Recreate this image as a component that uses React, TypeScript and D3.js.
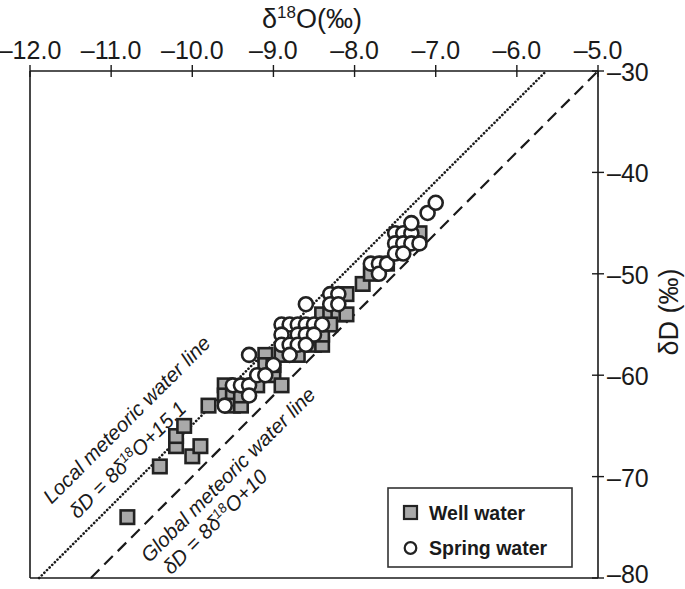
import React from 'react';
import * as d3 from 'd3';

const xTicks = [-12, -11, -10, -9, -8, -7, -6, -5];
const yTicks = [-30, -40, -50, -60, -70, -80];

const wellX = [-10.8, -10.4, -10.2, -10.2, -10.1, -10.0, -9.9, -9.8, -9.6, -9.6, -9.5, -9.5, -9.4, -9.4, -9.2, -9.1, -9.1, -9.0, -9.0, -8.9, -8.9, -8.7, -8.5, -8.4, -8.4, -8.4, -8.3, -8.2, -8.1, -8.1, -8.3, -7.9, -7.8, -7.6, -7.2];
const wellY = [-74, -69, -67, -66, -65, -68, -67, -63, -61, -62, -62, -63, -63, -62, -61, -58, -59, -60, -59, -61, -58, -58, -57, -57, -56, -54, -54, -54, -54, -52, -55, -51, -50, -49, -46];

const springX = [-9.6, -9.5, -9.4, -9.3, -9.3, -9.3, -9.0, -9.2, -9.1, -8.6, -8.3, -8.2, -8.3, -8.2, -8.9, -8.8, -8.7, -8.6, -8.5, -8.4, -8.9, -8.7, -8.6, -8.5, -8.9, -8.8, -8.7, -8.6, -8.8, -7.8, -7.7, -7.7, -7.6, -7.5, -7.4, -7.3, -7.5, -7.4, -7.3, -7.2, -7.5, -7.4, -7.3, -7.1, -7.0];
const springY = [-63, -61, -61, -61, -62, -58, -59, -60, -60, -53, -52, -52, -53, -53, -55, -55, -55, -55, -55, -55, -56, -56, -56, -56, -57, -57, -57, -57, -58, -49, -49, -50, -49, -46, -46, -46, -47, -47, -47, -47, -48, -48, -45, -44, -43];

const slope = 8;
const localIntercept = 15.1;
const globalIntercept = 10;

export default function App() {
  const W = 685, H = 589;
  const x = d3.scaleLinear().domain([-12, -5]).range([30, 598]);
  const y = d3.scaleLinear().domain([-30, -80]).range([71, 578]);
  const ink = '#1a1a1a';
  const font = 'Liberation Sans, Arial, sans-serif';

  const lineSeg = (b: number) => {
    const x0 = Math.max(-12, (-80 - b) / slope);
    const x1 = Math.min(-5, (-30 - b) / slope);
    const gen = d3.line<number>().x(d => x(d)).y(d => y(slope * d + b));
    return gen([x0, x1]) as string;
  };

  const labelPos = (b: number, t: number, off: number) => {
    const px = x(t), py = y(slope * t + b);
    const k = off / Math.SQRT2;
    return `translate(${px - k},${py - k}) rotate(-45)`;
  };

  const fmt = (t: number, dec: number) => '–' + Math.abs(t).toFixed(dec);

  const sq = 13.5;
  const r = 7;

  return (
    <svg width={W} height={H} style={{ position: 'absolute', left: 0, top: 0, background: '#fff' }} fontFamily={font}>
      {/* frame */}
      <line x1={30} x2={598} y1={71} y2={71} stroke={ink} strokeWidth={1.6} />
      <line x1={598} x2={598} y1={71} y2={578} stroke={ink} strokeWidth={1.6} />
      <line x1={30} x2={30} y1={71} y2={578} stroke={ink} strokeWidth={1.6} />
      <line x1={30} x2={598} y1={578} y2={578} stroke={ink} strokeWidth={1.6} />
      {xTicks.map(t => (
        <g key={'xt' + t}>
          <line x1={x(t)} x2={x(t)} y1={65} y2={77} stroke={ink} strokeWidth={1.4} />
          <text x={x(t)} y={59} textAnchor="middle" fontSize={25} fill={ink}>{fmt(t, 1)}</text>
        </g>
      ))}
      {yTicks.map(t => (
        <g key={'yt' + t}>
          <line x1={592} x2={604} y1={y(t)} y2={y(t)} stroke={ink} strokeWidth={1.4} />
          <text x={607} y={Math.min(y(t) + 10, 583)} textAnchor="start" fontSize={25} fill={ink}>{fmt(t, 0)}</text>
        </g>
      ))}
      <text x={312} y={28} textAnchor="middle" fontSize={27} fill={ink}>
        δ<tspan fontSize={17} dy={-10}>18</tspan><tspan dy={10}>O(‰)</tspan>
      </text>
      <text transform="translate(678,312) rotate(-90)" textAnchor="middle" fontSize={27} fill={ink}>δD (‰)</text>

      {/* meteoric lines */}
      <path d={lineSeg(localIntercept)} stroke={ink} strokeWidth={2.6} fill="none" strokeDasharray="0.1 3.6" strokeLinecap="round" />
      <path d={lineSeg(globalIntercept)} stroke={ink} strokeWidth={2.2} fill="none" strokeDasharray="12 7" />

      <g fontStyle="italic" fontSize={20.5} fill={ink}>
        <text transform={labelPos(localIntercept, -11.36, 43)}>Local meteoric water line</text>
        <text transform={labelPos(localIntercept, -11.29, 14)}>δD = 8δ<tspan fontSize={13.5} dy={-7}>18</tspan><tspan dy={7}>O+15.1</tspan></text>
        <text transform={labelPos(globalIntercept, -10.8, -31)}>Global meteoric water line</text>
        <text transform={labelPos(globalIntercept, -10.74, -55)}>δD = 8δ<tspan fontSize={13.5} dy={-7}>18</tspan><tspan dy={7}>O+10</tspan></text>
      </g>

      {/* data */}
      {wellX.map((v, i) => (
        <rect key={'w' + i} x={x(v) - sq / 2} y={y(wellY[i]) - sq / 2} width={sq} height={sq}
          fill="#a9a9a9" stroke="#222" strokeWidth={2.6} />
      ))}
      {springX.map((v, i) => (
        <circle key={'s' + i} cx={x(v)} cy={y(springY[i])} r={r} fill="#fff" stroke="#222" strokeWidth={2.6} />
      ))}

      {/* legend */}
      <rect x={388} y={488} width={184} height={79} fill="#fff" stroke="#333" strokeWidth={1.6} />
      <rect x={404} y={506} width={13} height={13} fill="#a9a9a9" stroke="#222" strokeWidth={2.2} />
      <text x={429} y={520} fontSize={19.5} fontWeight="bold" fill={ink}>Well water</text>
      <circle cx={410.5} cy={548} r={5.8} fill="#fff" stroke="#222" strokeWidth={2.2} />
      <text x={429} y={555} fontSize={19.5} fontWeight="bold" fill={ink}>Spring water</text>
    </svg>
  );
}
